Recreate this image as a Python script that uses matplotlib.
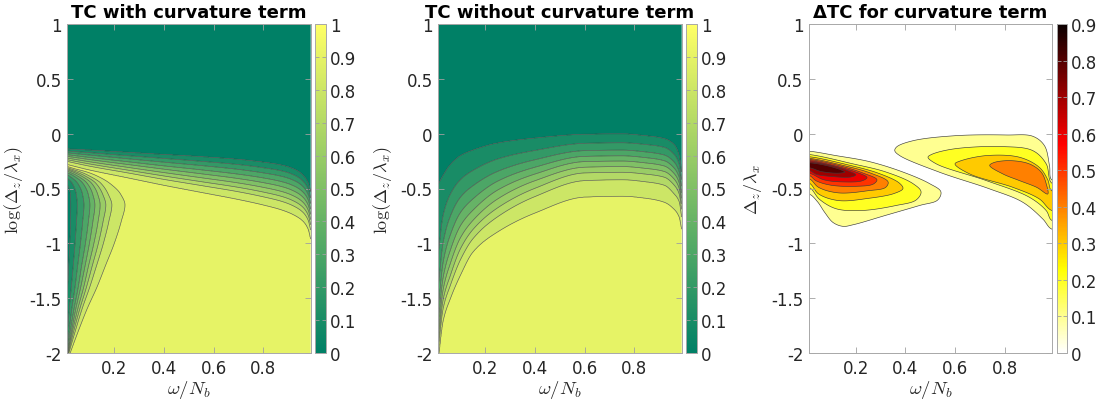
import numpy as np
import matplotlib
matplotlib.use("Agg")
import matplotlib.pyplot as plt
from matplotlib import colors as mcolors
from matplotlib.cm import ScalarMappable

plt.rcParams["font.family"] = ["DejaVu Sans"]
plt.rcParams["axes.unicode_minus"] = False
plt.rcParams["mathtext.fontset"] = "cm"

# ---------------------------------------------------------------- data
LEVELS = [0.1, 0.2, 0.3, 0.4, 0.5, 0.6, 0.7, 0.8, 0.9]
X_LIM = (0.011, 0.99)
Y_LIM = (-2.0, 1.0)
X_TICKS = [0.2, 0.4, 0.6, 0.8]
Y_TICKS = [-2, -1.5, -1, -0.5, 0, 0.5, 1]
Y_TICK_LABELS = ["-2", "-1.5", "-1", "-0.5", "0", "0.5", "1"]
TC_CBAR_TICKS = [0, 0.1, 0.2, 0.3, 0.4, 0.5, 0.6, 0.7, 0.8, 0.9, 1]
DTC_CBAR_TICKS = [0, 0.1, 0.2, 0.3, 0.4, 0.5, 0.6, 0.7, 0.8, 0.9]
TITLES = ["TC with curvature term", "TC without curvature term",
          "\u0394TC for curvature term"]

# TC with curvature: height of each TC level (rows 0.1 .. 0.9) at omega/N_b samples
TC1_BAND_X = [0.011, 0.1, 0.25, 0.4, 0.55, 0.7, 0.8, 0.88, 0.93, 0.96, 0.98, 0.99]
TC1_BAND_Y = [
    [-0.140, -0.150, -0.170, -0.190, -0.210, -0.235, -0.260, -0.290, -0.330, -0.380, -0.450, -0.530],
    [-0.158, -0.173, -0.200, -0.226, -0.252, -0.282, -0.311, -0.343, -0.385, -0.435, -0.505, -0.586],
    [-0.175, -0.195, -0.228, -0.260, -0.291, -0.326, -0.358, -0.393, -0.435, -0.485, -0.555, -0.638],
    [-0.192, -0.217, -0.255, -0.294, -0.330, -0.370, -0.404, -0.442, -0.485, -0.535, -0.605, -0.689],
    [-0.207, -0.236, -0.280, -0.324, -0.366, -0.410, -0.447, -0.487, -0.532, -0.582, -0.652, -0.736],
    [-0.223, -0.256, -0.306, -0.355, -0.402, -0.450, -0.490, -0.532, -0.578, -0.628, -0.698, -0.784],
    [-0.238, -0.276, -0.331, -0.386, -0.438, -0.490, -0.533, -0.577, -0.624, -0.674, -0.744, -0.831],
    [-0.253, -0.296, -0.356, -0.417, -0.473, -0.530, -0.576, -0.622, -0.670, -0.720, -0.790, -0.878],
    [-0.280, -0.330, -0.400, -0.470, -0.535, -0.600, -0.650, -0.700, -0.750, -0.800, -0.870, -0.960],
]
# TC with curvature: low-frequency lobe, omega/N_b of each TC level at log(dz/lx) samples
TC1_LOBE_Y = [-0.27, -0.30, -0.32, -0.35, -0.38, -0.45, -0.55, -0.65, -0.80, -1.0, -1.2, -1.4, -1.6, -1.8, -2.0]
TC1_LOBE_X = [
    [-0.110, -0.070, -0.060, -0.040, -0.020, 0.008, 0.023, 0.025, 0.024, 0.021, 0.017, 0.013, 0.009, 0.006, 0.002],
    [-0.100, -0.060, -0.050, -0.025, -0.005, 0.030, 0.047, 0.051, 0.048, 0.042, 0.035, 0.027, 0.019, 0.012, 0.005],
    [-0.090, -0.050, -0.040, -0.010, 0.015, 0.052, 0.072, 0.078, 0.073, 0.064, 0.053, 0.042, 0.029, 0.018, 0.007],
    [-0.080, -0.040, -0.025, 0.005, 0.033, 0.073, 0.095, 0.102, 0.096, 0.084, 0.069, 0.055, 0.038, 0.023, 0.009],
    [-0.070, -0.030, -0.012, 0.020, 0.048, 0.090, 0.113, 0.122, 0.114, 0.100, 0.083, 0.065, 0.045, 0.028, 0.011],
    [-0.060, -0.020, 0.000, 0.035, 0.063, 0.108, 0.133, 0.143, 0.135, 0.118, 0.097, 0.077, 0.053, 0.032, 0.013],
    [-0.050, -0.010, 0.012, 0.048, 0.078, 0.125, 0.153, 0.166, 0.155, 0.136, 0.112, 0.088, 0.061, 0.037, 0.015],
    [-0.040, 0.000, 0.024, 0.065, 0.095, 0.145, 0.175, 0.190, 0.178, 0.156, 0.129, 0.101, 0.070, 0.043, 0.017],
    [-0.030, 0.011, 0.040, 0.090, 0.125, 0.180, 0.225, 0.243, 0.228, 0.200, 0.165, 0.130, 0.090, 0.055, 0.022],
]
# TC without curvature: height of each TC level at omega/N_b samples
TC2_X = [0.011, 0.03, 0.06, 0.10, 0.15, 0.25, 0.40, 0.60, 0.75, 0.85, 0.92, 0.96, 0.98, 0.99]
TC2_Y = [
    [-0.46, -0.38, -0.28, -0.20, -0.150, -0.085, -0.040, -0.006, -0.002, -0.020, -0.045, -0.100, -0.20, -0.35],
    [-1.10, -0.75, -0.55, -0.42, -0.336, -0.231, -0.153, -0.088, -0.083, -0.100, -0.125, -0.190, -0.28, -0.42],
    [-1.40, -1.00, -0.75, -0.58, -0.476, -0.344, -0.238, -0.155, -0.150, -0.168, -0.195, -0.260, -0.35, -0.48],
    [-1.60, -1.18, -0.92, -0.72, -0.596, -0.433, -0.306, -0.207, -0.202, -0.220, -0.247, -0.315, -0.40, -0.54],
    [-1.72, -1.32, -1.06, -0.84, -0.699, -0.514, -0.368, -0.255, -0.250, -0.268, -0.295, -0.365, -0.45, -0.59],
    [-1.82, -1.43, -1.18, -0.95, -0.792, -0.595, -0.429, -0.306, -0.300, -0.318, -0.345, -0.415, -0.50, -0.64],
    [-1.90, -1.52, -1.29, -1.05, -0.875, -0.676, -0.498, -0.358, -0.352, -0.370, -0.397, -0.470, -0.55, -0.69],
    [-1.97, -1.60, -1.38, -1.15, -0.959, -0.757, -0.573, -0.428, -0.420, -0.440, -0.470, -0.550, -0.62, -0.76],
    [-2.05, -1.71, -1.50, -1.29, -1.080, -0.895, -0.723, -0.578, -0.570, -0.590, -0.625, -0.690, -0.76, -0.87],
]
# Delta TC: contour outlines (omega/N_b, log(dz/lx)) of the low-frequency blob (edge x = 0.011)
DTC_LEFT = {
    0.1: [(0.011, -0.16), (0.12, -0.20), (0.255, -0.255), (0.39, -0.35), (0.497, -0.455), (0.543, -0.53),
          (0.53, -0.605), (0.457, -0.655), (0.32, -0.745), (0.19, -0.83), (0.148, -0.845), (0.108, -0.81),
          (0.075, -0.72), (0.045, -0.62), (0.011, -0.55)],
    0.2: [(0.011, -0.19), (0.188, -0.275), (0.322, -0.35), (0.43, -0.455), (0.463, -0.53), (0.443, -0.605),
          (0.362, -0.655), (0.228, -0.70), (0.121, -0.685), (0.054, -0.60), (0.011, -0.49)],
    0.3: [(0.011, -0.21), (0.16, -0.28), (0.29, -0.36), (0.375, -0.45), (0.39, -0.50), (0.355, -0.545),
          (0.25, -0.59), (0.13, -0.61), (0.05, -0.55), (0.011, -0.45)],
    0.4: [(0.011, -0.225), (0.14, -0.285), (0.26, -0.36), (0.33, -0.44), (0.32, -0.49), (0.25, -0.52),
          (0.13, -0.54), (0.05, -0.49), (0.011, -0.41)],
    0.5: [(0.011, -0.235), (0.13, -0.29), (0.23, -0.36), (0.285, -0.42), (0.27, -0.46), (0.20, -0.48),
          (0.10, -0.47), (0.04, -0.43), (0.011, -0.38)],
    0.6: [(0.011, -0.245), (0.11, -0.29), (0.20, -0.35), (0.245, -0.40), (0.225, -0.43), (0.15, -0.44),
          (0.07, -0.42), (0.011, -0.36)],
    0.7: [(0.011, -0.255), (0.10, -0.29), (0.17, -0.34), (0.20, -0.375), (0.18, -0.395), (0.10, -0.39),
          (0.04, -0.37), (0.011, -0.335)],
    0.8: [(0.011, -0.265), (0.08, -0.29), (0.14, -0.33), (0.155, -0.35), (0.13, -0.36), (0.06, -0.345),
          (0.011, -0.31)],
}
# Delta TC: contour outlines of the high-frequency blob (edge x = 0.99)
DTC_RIGHT = {
    0.1: [(0.99, -0.42), (0.981, -0.29), (0.961, -0.11), (0.914, -0.024), (0.807, -0.012), (0.605, -0.018),
          (0.431, -0.064), (0.365, -0.12), (0.357, -0.155), (0.377, -0.20), (0.538, -0.352), (0.74, -0.504),
          (0.873, -0.625), (0.954, -0.778), (0.99, -0.87)],
    0.2: [(0.99, -0.45), (0.968, -0.276), (0.914, -0.155), (0.793, -0.118), (0.592, -0.14), (0.505, -0.19),
          (0.491, -0.215), (0.525, -0.276), (0.726, -0.428), (0.90, -0.58), (0.968, -0.702), (0.99, -0.79)],
    0.3: [(0.99, -0.52), (0.974, -0.42), (0.94, -0.307), (0.86, -0.215), (0.726, -0.20), (0.62, -0.25),
          (0.60, -0.276), (0.659, -0.367), (0.833, -0.489), (0.94, -0.595), (0.99, -0.70)],
}
DTC_RIGHT_CLOSED = {
    0.4: [(0.974, -0.55), (0.968, -0.458), (0.948, -0.352), (0.90, -0.276), (0.82, -0.246), (0.755, -0.265),
          (0.74, -0.29), (0.793, -0.367), (0.86, -0.428), (0.93, -0.49)],
}

# ---------------------------------------------------------------- helpers
def pchip(xk, yk, xq):
    """Monotone piecewise-cubic curve through the knots (xk, yk)."""
    xk = np.asarray(xk, float)
    yk = np.asarray(yk, float)
    o = np.argsort(xk)
    xk, yk = xk[o], yk[o]
    xq = np.clip(xq, xk[0], xk[-1])
    h = np.diff(xk)
    d = np.diff(yk) / h
    m = np.zeros_like(yk)
    m[0], m[-1] = d[0], d[-1]
    for i in range(1, len(xk) - 1):
        if d[i - 1] * d[i] > 0:
            w1 = 2 * h[i] + h[i - 1]
            w2 = h[i] + 2 * h[i - 1]
            m[i] = (w1 + w2) / (w1 / d[i - 1] + w2 / d[i])
    i = np.clip(np.searchsorted(xk, xq, side="right") - 1, 0, len(xk) - 2)
    t = (xq - xk[i]) / h[i]
    return ((2 * t**3 - 3 * t**2 + 1) * yk[i] + (t**3 - 2 * t**2 + t) * h[i] * m[i]
            + (-2 * t**3 + 3 * t**2) * yk[i + 1] + (t**3 - t**2) * h[i] * m[i + 1])


def field_from_heights(xs, rows, xg, yg):
    """TC field whose level-L contour sits at height rows[L] (value falls with height)."""
    lev = np.array(LEVELS)
    H = np.array([pchip(xs, r, xg) for r in rows])  # (nlev, nx)
    Z = np.empty((len(yg), len(xg)))
    for j in range(len(xg)):
        hp = H[::-1, j]
        hp = np.maximum.accumulate(hp) + np.arange(len(hp)) * 1e-6
        xp = np.concatenate([[hp[0] - 0.5], hp, [hp[-1] + 0.5]])
        fp = np.concatenate([[0.999], lev[::-1], [0.001]])
        Z[:, j] = np.interp(yg, xp, fp)
    return Z


def field_from_widths(ys, rows, xg, yg):
    """Lobe field whose level-L contour sits at omega/N_b = rows[L] (value rises with x)."""
    lev = np.array(LEVELS)
    top = max(ys)
    W = np.array([pchip(ys, r, yg) for r in rows])  # (nlev, ny)
    Z = np.ones((len(yg), len(xg))) * 0.999
    for i in range(len(yg)):
        if yg[i] > top:
            continue
        wp = np.maximum.accumulate(W[:, i]) + np.arange(len(lev)) * 1e-6
        xp = np.concatenate([[wp[0] - 0.03], wp, [wp[-1] + 0.06]])
        fp = np.concatenate([[0.02], lev, [0.999]])
        Z[i, :] = np.interp(xg, xp, fp)
    return Z


SX, SY = 248.5, 109.7  # screen pixels per data unit, used for spline spacing


def closed_spline(pts, n=24):
    P = np.asarray(pts, float) * [SX, SY]
    N = len(P)
    out = []
    for k in range(N):
        p0, p1, p2, p3 = (P[(k + j) % N] for j in (-1, 0, 1, 2))
        t0 = 0.0
        t1 = t0 + np.linalg.norm(p1 - p0) ** 0.5
        t2 = t1 + np.linalg.norm(p2 - p1) ** 0.5
        t3 = t2 + np.linalg.norm(p3 - p2) ** 0.5
        t = np.linspace(t1, t2, n, endpoint=False)[:, None]
        a1 = (t1 - t) / (t1 - t0) * p0 + (t - t0) / (t1 - t0) * p1
        a2 = (t2 - t) / (t2 - t1) * p1 + (t - t1) / (t2 - t1) * p2
        a3 = (t3 - t) / (t3 - t2) * p2 + (t - t2) / (t3 - t2) * p3
        b1 = (t2 - t) / (t2 - t0) * a1 + (t - t0) / (t2 - t0) * a2
        b2 = (t3 - t) / (t3 - t1) * a2 + (t - t1) / (t3 - t1) * a3
        out.append((t2 - t) / (t2 - t1) * b1 + (t - t1) / (t2 - t1) * b2)
    return np.vstack(out) / [SX, SY]


# ---------------------------------------------------------------- fields
xg = np.linspace(X_LIM[0], X_LIM[1], 600)
yg = np.linspace(Y_LIM[0], Y_LIM[1], 900)
tc_with = np.minimum(field_from_heights(TC1_BAND_X, TC1_BAND_Y, xg, yg),
                     field_from_widths(TC1_LOBE_Y, TC1_LOBE_X, xg, yg))
tc_without = field_from_heights(TC2_X, TC2_Y, xg, yg)

# ---------------------------------------------------------------- figure
W, H = 1100, 406
fig = plt.figure(figsize=(W / 100, H / 100), dpi=100)


def rect(l, r, t=25, b=354):
    return [l / W, (H - b) / H, (r - l) / W, (b - t) / H]


axes = [fig.add_axes(rect(67.3, 310.7)), fig.add_axes(rect(438.3, 681.7)), fig.add_axes(rect(809, 1051.7))]
caxes = [fig.add_axes(rect(315, 325.5)), fig.add_axes(rect(686, 696.5)), fig.add_axes(rect(1056.7, 1066.5))]

summer = plt.get_cmap("summer")
hot_r = plt.get_cmap("hot_r")
tc_norm = mcolors.Normalize(0, 1)
dtc_norm = mcolors.Normalize(0, 0.9)
fill_levels = [0.0] + LEVELS + [1.0]
fill_colors = [summer(tc_norm(v)) for v in fill_levels[:-1]]
LINE_KW = dict(colors="#3c3c3c", linewidths=0.45, alpha=0.85)

for ax, Z in zip(axes[:2], (tc_with, tc_without)):
    ax.contourf(xg, yg, Z, levels=fill_levels, colors=fill_colors, antialiased=True)
    ax.contour(xg, yg, Z, levels=LEVELS, **LINE_KW)

ax3 = axes[2]
ax3.set_facecolor("white")
for lev, pts in DTC_LEFT.items():
    ring = [(-0.06, pts[0][1])] + pts + [(-0.06, pts[-1][1])]
    c = closed_spline(ring)
    ax3.fill(c[:, 0], c[:, 1], facecolor=hot_r(dtc_norm(lev)), edgecolor="#3c3c3c",
             linewidth=0.45, zorder=1 + lev)
for lev, pts in DTC_RIGHT.items():
    ring = [(1.06, pts[0][1])] + pts + [(1.06, pts[-1][1])]
    c = closed_spline(ring)
    ax3.fill(c[:, 0], c[:, 1], facecolor=hot_r(dtc_norm(lev)), edgecolor="#3c3c3c",
             linewidth=0.45, zorder=1 + lev)
for lev, pts in DTC_RIGHT_CLOSED.items():
    c = closed_spline(pts)
    ax3.fill(c[:, 0], c[:, 1], facecolor=hot_r(dtc_norm(lev)), edgecolor="#3c3c3c",
             linewidth=0.45, zorder=1 + lev)

ylabels = [r"$\log(\Delta_z/\lambda_x)$", r"$\log(\Delta_z/\lambda_x)$", r"$\Delta_z/\lambda_x$"]
ylabel_x = [-0.172, -0.180, -0.185]
for ax, title, yl, yx in zip(axes, TITLES, ylabels, ylabel_x):
    ax.set_xlim(*X_LIM)
    ax.set_ylim(*Y_LIM)
    ax.set_xticks(X_TICKS)
    ax.set_xticklabels([f"{v:g}" for v in X_TICKS])
    ax.set_yticks(Y_TICKS)
    ax.set_yticklabels(Y_TICK_LABELS)
    ax.tick_params(direction="in", length=4, width=0.6, color="#a0a0a0", labelsize=12,
                   labelcolor="#262626", top=True, right=True, pad=4)
    for s in ax.spines.values():
        s.set_color("#a8a8a8")
        s.set_linewidth(0.7)
    ax.set_title(title, fontsize=13, fontweight="bold", pad=5)
    ax.set_xlabel(r"$\omega/N_b$", fontsize=13.5, color="#262626")
    ax.xaxis.set_label_coords(0.5, -0.075)
    ax.set_ylabel(yl, fontsize=13, color="#262626")
    ax.yaxis.set_label_coords(yx, 0.5)

for cax, cmap, norm, ticks in zip(caxes, (summer, summer, hot_r), (tc_norm, tc_norm, dtc_norm),
                                  (TC_CBAR_TICKS, TC_CBAR_TICKS, DTC_CBAR_TICKS)):
    cb = fig.colorbar(ScalarMappable(norm=norm, cmap=cmap), cax=cax, ticks=ticks)
    cb.ax.set_yticklabels([f"{t:g}" for t in ticks])
    cb.outline.set_edgecolor("#a8a8a8")
    cb.outline.set_linewidth(0.7)
    cb.ax.tick_params(direction="in", length=3, width=0.6, color="#a0a0a0", labelsize=12,
                      labelcolor="#262626", left=True, right=True, pad=3)

fig.savefig("out.png", dpi=100)
